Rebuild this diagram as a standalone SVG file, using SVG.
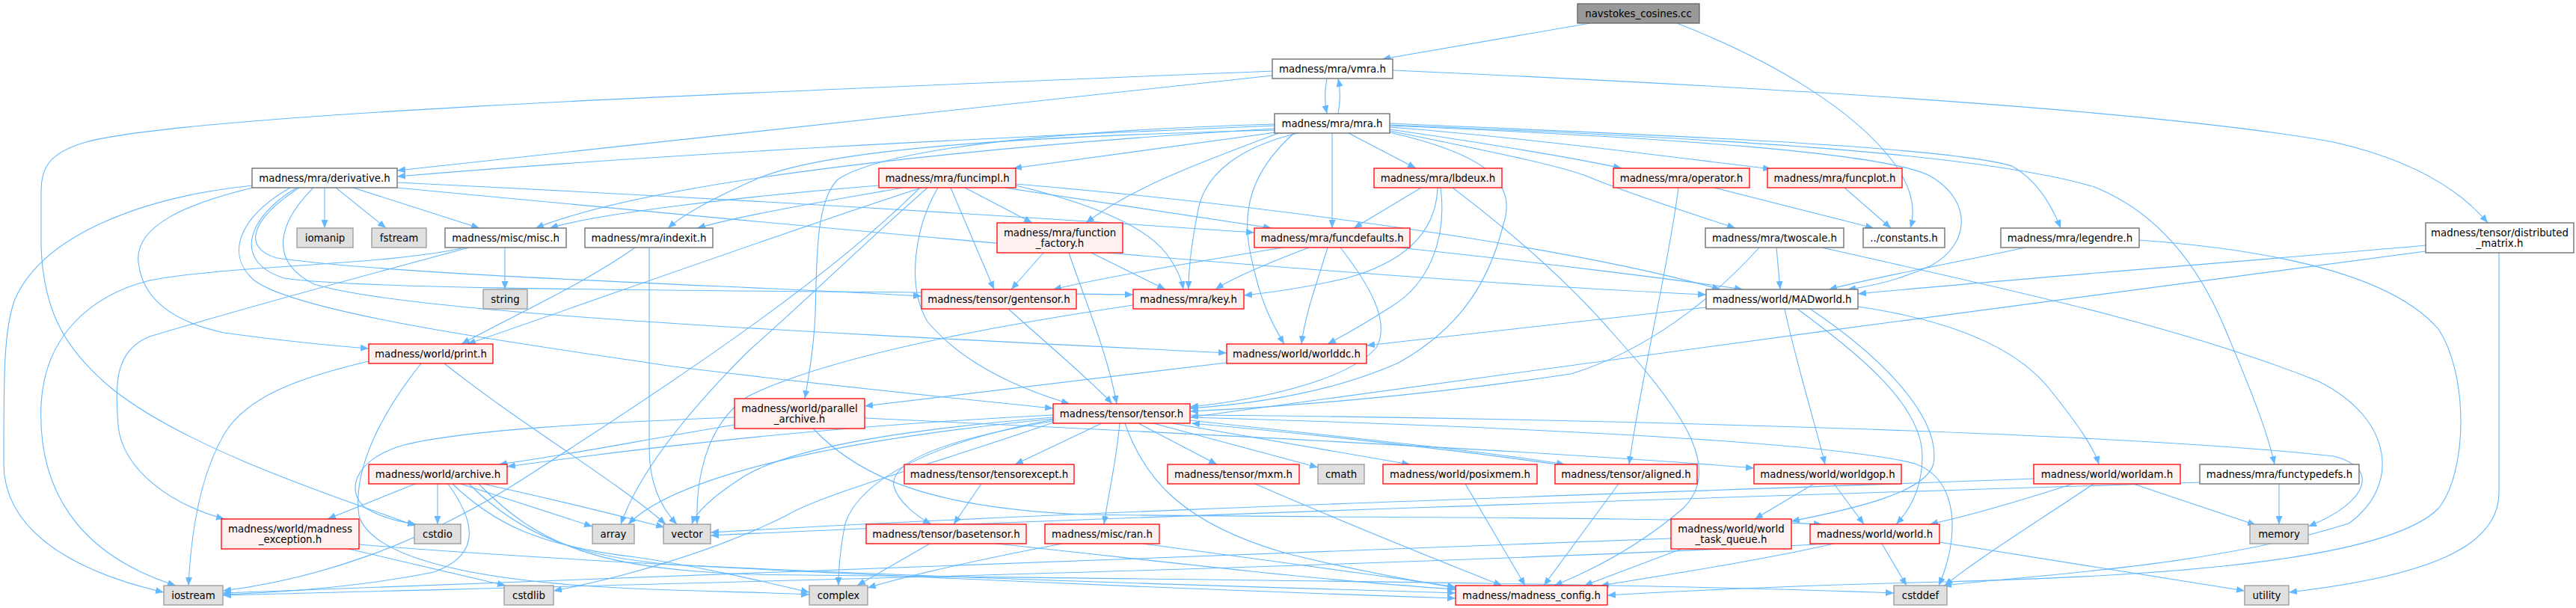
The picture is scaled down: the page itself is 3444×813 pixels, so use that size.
<svg xmlns="http://www.w3.org/2000/svg" width="3444" height="813" viewBox="0 0 3444 813">
<style>
.e path{fill:none;stroke:#63b8ff;stroke-width:1.1;marker-end:url(#a)}
.n rect{stroke-width:1.3}
.r rect{fill:#fff0f0;stroke:#ff0000}
.w rect{fill:#ffffff;stroke:#666666}
.g rect{fill:#e0e0e0;stroke:#999999}
.root rect{fill:#999999;stroke:#666666}
text{font-family:"DejaVu Sans","Liberation Sans",sans-serif;font-size:13.33px;text-anchor:middle;fill:#000}
</style>
<defs>
<marker id="a" markerUnits="userSpaceOnUse" markerWidth="12" markerHeight="9" refX="11" refY="4.5" orient="auto"><path d="M0,0 L11,4.5 L0,9 z" fill="#63b8ff"/></marker>
</defs>
<rect width="3444" height="813" fill="#ffffff"/>
<g id="connectors" class="e">
<path d="M2126,31 L1848,79"/>
<path d="M2242,31 C2380,85 2480,150 2530,215 C2560,255 2560,285 2554,305"/>
<path d="M1774,105 C1771,120 1771,137 1774,152"/>
<path d="M1789,152 C1792,137 1792,120 1789,105"/>
<path d="M1701,101 L531,228"/>
<path d="M1701,95 C1100,120 260,150 115,190 C62,205 55,228 55,255 L55,330 C58,420 90,470 150,520 C250,600 450,665 556,703"/>
<path d="M1862,94 C2400,118 2900,150 3120,190 C3230,215 3290,255 3326,298"/>
<path d="M1704,168 C1300,185 900,205 531,236"/>
<path d="M1706,177 L1355,225"/>
<path d="M1803,178 L1893,225"/>
<path d="M1858,173 C1950,186 2100,210 2168,225"/>
<path d="M1858,170 C2050,185 2250,212 2368,226"/>
<path d="M1704,172 C1400,190 900,232 716,305"/>
<path d="M1704,174 C1350,183 1100,200 1010,240 C960,262 918,283 893,305"/>
<path d="M1709,178 C1640,205 1520,245 1452,298"/>
<path d="M1781,178 L1781,305"/>
<path d="M1858,175 C1980,200 2080,220 2120,235 C2180,260 2260,285 2320,305"/>
<path d="M1858,165 C2200,180 2600,195 2690,222 C2722,240 2742,272 2755,305"/>
<path d="M1858,167 C2300,185 2650,205 2800,250 C2900,290 2950,380 2975,440 C3000,500 3030,570 3041,621"/>
<path d="M1735,178 C1660,196 1612,230 1602,280 C1592,330 1589,360 1589,387"/>
<path d="M1858,168 C2250,185 2520,205 2580,235 C2640,270 2632,328 2582,355 C2545,372 2510,382 2470,387"/>
<path d="M1730,178 C1672,230 1662,280 1670,330 C1683,400 1700,432 1717,460"/>
<path d="M1704,166 C1400,175 1180,200 1120,240 C1090,270 1092,350 1090,420 C1088,470 1080,510 1076,533"/>
<path d="M1858,177 C1980,205 2030,240 2010,300 C1990,380 1950,440 1870,485 C1780,525 1680,540 1591,546"/>
<path d="M338,248 C200,262 60,310 20,400 C5,440 5,500 5,620 C5,700 80,760 219,792"/>
<path d="M434,251 L434,305"/>
<path d="M449,251 L516,305"/>
<path d="M472,251 L641,305"/>
<path d="M531,244 C900,262 1300,285 1677,311"/>
<path d="M531,251 C1100,305 1800,372 2281,394"/>
<path d="M338,251 C250,272 180,302 185,350 C190,400 230,430 300,445 C380,456 440,462 493,466"/>
<path d="M388,251 C320,290 300,340 340,375 C400,420 700,460 900,490 C1100,515 1300,535 1408,546"/>
<path d="M419,251 C370,300 360,350 420,380 C550,420 1100,445 1640,472"/>
<path d="M400,251 C340,290 320,330 370,345 C550,370 1000,382 1232,396"/>
<path d="M397,251 C330,290 310,350 380,372 C500,390 1100,388 1515,394"/>
<path d="M1175,248 C1000,262 800,285 735,305"/>
<path d="M1207,251 C1100,270 1000,286 932,305"/>
<path d="M1232,251 C1050,310 800,400 625,460"/>
<path d="M1240,251 C1150,330 1080,400 1000,470 C920,550 855,630 830,701"/>
<path d="M1254,251 C1225,300 1210,380 1240,430 C1290,490 1370,522 1430,540"/>
<path d="M1271,251 L1329,387"/>
<path d="M1290,251 L1380,298"/>
<path d="M1343,251 L1700,305"/>
<path d="M1358,246 C1700,275 2100,330 2300,387"/>
<path d="M1358,248 C1450,270 1530,300 1560,340 C1575,360 1580,375 1582,387"/>
<path d="M1230,251 C1120,360 950,480 700,640 C560,730 420,775 298,790"/>
<path d="M1900,251 L1810,305"/>
<path d="M1922,251 C1920,310 1880,350 1800,372 C1740,386 1700,391 1663,395"/>
<path d="M1926,251 C1935,320 1910,380 1860,410 C1820,436 1790,452 1775,460"/>
<path d="M1942,251 C2020,310 2100,380 2160,450 C2260,560 2300,630 2250,680 C2180,740 2110,770 2078,783"/>
<path d="M2292,251 L2505,305"/>
<path d="M2244,251 C2230,360 2195,500 2178,621"/>
<path d="M2466,251 L2528,305"/>
<path d="M675,331 L675,387"/>
<path d="M621,331 C520,355 300,355 200,375 C120,395 60,450 55,540 C50,650 100,740 235,783"/>
<path d="M627,331 C500,365 300,420 200,450 C150,470 155,520 158,570 C165,630 230,675 300,694"/>
<path d="M849,331 C780,380 690,420 617,460"/>
<path d="M868,331 L868,600 C868,650 885,680 905,701"/>
<path d="M1395,338 L1352,387"/>
<path d="M1459,338 L1558,387"/>
<path d="M1429,338 C1450,400 1480,470 1493,540"/>
<path d="M1715,331 C1600,350 1480,370 1408,387"/>
<path d="M1750,331 C1700,350 1650,370 1625,387"/>
<path d="M1775,331 C1760,380 1745,420 1740,460"/>
<path d="M1792,331 C1830,380 1860,430 1840,465 C1800,510 1680,535 1591,544"/>
<path d="M1870,331 C2050,350 2250,375 2330,387"/>
<path d="M2352,331 C2290,400 2200,470 2100,500 C1900,530 1700,545 1591,550"/>
<path d="M2375,331 L2380,387"/>
<path d="M2436,331 C2650,380 2900,430 3100,510 C3200,560 3210,650 3140,700 C2950,760 2700,770 2598,783"/>
<path d="M2708,331 C2620,350 2500,372 2445,387"/>
<path d="M2860,321 C3050,335 3200,370 3260,440 C3300,500 3300,630 3260,680 C3180,760 2800,772 2600,778 C2400,783 2250,790 2149,796"/>
<path d="M3243,328 C3000,350 2700,372 2484,393"/>
<path d="M3243,336 C2800,395 2000,500 1591,558"/>
<path d="M3341,338 L3341,660 C3340,730 3250,770 3060,792"/>
<path d="M1348,413 C1400,460 1460,510 1487,540"/>
<path d="M1515,408 C1300,440 1100,480 1000,530 C940,570 930,650 932,701"/>
<path d="M1640,485 L1156,543"/>
<path d="M2281,411 L1827,462"/>
<path d="M2386,413 C2400,480 2425,560 2440,621"/>
<path d="M2403,413 C2480,470 2570,540 2570,610 C2570,650 2555,680 2535,701"/>
<path d="M2420,413 C2520,480 2595,560 2585,620 C2575,660 2470,682 2395,697"/>
<path d="M2484,410 C2620,430 2700,470 2740,520 C2780,570 2800,600 2806,621"/>
<path d="M493,483 C400,505 330,530 300,580 C265,640 255,720 252,783"/>
<path d="M563,486 C520,540 470,620 480,690 C500,750 650,780 870,788 C950,791 1020,792 1082,795"/>
<path d="M594,486 C700,570 820,640 890,701"/>
<path d="M982,568 C850,590 750,610 667,621"/>
<path d="M982,558 C800,565 620,575 540,595 C470,615 462,660 490,680 C510,692 535,698 556,701"/>
<path d="M1156,559 C1600,580 2100,605 2345,626"/>
<path d="M1087,573 C1150,640 1250,680 1450,688 C1800,693 2200,690 2436,701"/>
<path d="M1408,555 C1100,570 850,600 678,624"/>
<path d="M1473,566 L1357,621"/>
<path d="M1522,566 L1627,621"/>
<path d="M1542,566 L1762,625"/>
<path d="M1567,566 L1885,621"/>
<path d="M1591,562 C1800,585 2000,605 2092,621"/>
<path d="M2082,621 C1950,602 1750,580 1593,566"/>
<path d="M1497,566 C1492,620 1482,660 1476,701"/>
<path d="M1408,563 C1250,590 1190,620 1195,650 C1200,670 1225,690 1245,701"/>
<path d="M1504,566 C1530,640 1580,700 1720,740 C1820,765 1900,778 1946,786"/>
<path d="M1678,647 C1800,700 1950,760 2008,783"/>
<path d="M1408,558 C1200,575 1050,600 990,640 C952,665 930,685 925,701"/>
<path d="M1408,560 C1100,590 900,640 840,701"/>
<path d="M1409,561 C1250,590 1150,640 1130,700 C1122,740 1121,765 1121,783"/>
<path d="M1408,565 C1250,620 1100,660 1050,690 C950,740 820,775 740,790"/>
<path d="M1591,555 C2000,558 2800,575 3120,610 C3180,625 3170,670 3086,704"/>
<path d="M1591,558 C2000,570 2450,590 2560,620 C2620,640 2620,720 2592,783"/>
<path d="M2164,647 L2064,783"/>
<path d="M1959,647 L2039,783"/>
<path d="M555,647 L438,694"/>
<path d="M585,647 L585,701"/>
<path d="M599,647 C630,690 650,740 580,765 C480,785 380,792 298,795"/>
<path d="M616,647 L792,704"/>
<path d="M646,647 C750,670 830,690 888,705"/>
<path d="M605,647 C660,700 720,730 850,745 C950,760 1030,780 1082,792"/>
<path d="M627,647 C700,720 780,745 900,755 C1300,775 1700,785 1946,793"/>
<path d="M640,647 C720,730 800,760 1000,768 C1600,775 2200,780 2532,793"/>
<path d="M480,728 C800,755 1500,785 1946,800"/>
<path d="M466,734 L676,783"/>
<path d="M1312,647 L1275,701"/>
<path d="M1243,727 L1146,783"/>
<path d="M1332,727 C1550,750 1750,775 1946,788"/>
<path d="M1420,727 C1300,750 1220,768 1160,786"/>
<path d="M1528,727 C1700,750 1850,770 1946,785"/>
<path d="M2425,647 L2346,694"/>
<path d="M2452,647 L2492,701"/>
<path d="M2248,734 L2118,783"/>
<path d="M2234,720 C1500,745 800,770 298,793"/>
<path d="M2452,727 C2350,750 2220,770 2140,783"/>
<path d="M2447,727 C1800,760 900,780 298,796"/>
<path d="M2516,727 L2549,783"/>
<path d="M2593,725 C2750,750 2900,775 3001,790"/>
<path d="M2771,647 C2700,670 2640,688 2580,701"/>
<path d="M2799,647 C2720,700 2640,750 2600,783"/>
<path d="M2852,647 L3016,702"/>
<path d="M2719,640 C2200,660 1500,680 950,712"/>
<path d="M3047,647 L3047,701"/>
<path d="M2941,645 C2300,665 1500,690 950,716"/>
</g>
<g id="n0" class="n root"><rect x="2109" y="5" width="163" height="26"/><text x="2190.5" y="22.5">navstokes_cosines.cc</text></g>
<g id="n1" class="n w"><rect x="1701" y="79" width="161" height="26"/><text x="1781.5" y="96.5">madness/mra/vmra.h</text></g>
<g id="n2" class="n w"><rect x="1704" y="152" width="154" height="26"/><text x="1781" y="169.5">madness/mra/mra.h</text></g>
<g id="n3" class="n w"><rect x="337" y="225" width="194" height="26"/><text x="434" y="242.5">madness/mra/derivative.h</text></g>
<g id="n4" class="n r"><rect x="1175" y="225" width="183" height="26"/><text x="1266.5" y="242.5">madness/mra/funcimpl.h</text></g>
<g id="n5" class="n r"><rect x="1837" y="225" width="171" height="26"/><text x="1922.5" y="242.5">madness/mra/lbdeux.h</text></g>
<g id="n6" class="n r"><rect x="2157" y="225" width="182" height="26"/><text x="2248" y="242.5">madness/mra/operator.h</text></g>
<g id="n7" class="n r"><rect x="2363" y="225" width="180" height="26"/><text x="2453" y="242.5">madness/mra/funcplot.h</text></g>
<g id="n8" class="n g"><rect x="397" y="305" width="75" height="26"/><text x="434.5" y="322.5">iomanip</text></g>
<g id="n9" class="n g"><rect x="497" y="305" width="73" height="26"/><text x="533.5" y="322.5">fstream</text></g>
<g id="n10" class="n w"><rect x="595" y="305" width="162" height="26"/><text x="676" y="322.5">madness/misc/misc.h</text></g>
<g id="n11" class="n w"><rect x="782" y="305" width="171" height="26"/><text x="867.5" y="322.5">madness/mra/indexit.h</text></g>
<g id="n12" class="n r"><rect x="1333" y="298" width="168" height="40"/><text x="1417" y="315.5">madness/mra/function</text><text x="1417" y="329.5">_factory.h</text></g>
<g id="n13" class="n r"><rect x="1677" y="305" width="208" height="26"/><text x="1781" y="322.5">madness/mra/funcdefaults.h</text></g>
<g id="n14" class="n w"><rect x="2280" y="305" width="185" height="26"/><text x="2372.5" y="322.5">madness/mra/twoscale.h</text></g>
<g id="n15" class="n w"><rect x="2491" y="305" width="109" height="26"/><text x="2545.5" y="322.5">../constants.h</text></g>
<g id="n16" class="n w"><rect x="2675" y="305" width="185" height="26"/><text x="2767.5" y="322.5">madness/mra/legendre.h</text></g>
<g id="n17" class="n w"><rect x="3243" y="298" width="198" height="40"/><text x="3342" y="315.5">madness/tensor/distributed</text><text x="3342" y="329.5">_matrix.h</text></g>
<g id="n18" class="n g"><rect x="646" y="387" width="59" height="26"/><text x="675.5" y="404.5">string</text></g>
<g id="n19" class="n r"><rect x="1232" y="387" width="207" height="26"/><text x="1335.5" y="404.5">madness/tensor/gentensor.h</text></g>
<g id="n20" class="n r"><rect x="1515" y="387" width="148" height="26"/><text x="1589" y="404.5">madness/mra/key.h</text></g>
<g id="n21" class="n w"><rect x="2281" y="387" width="203" height="26"/><text x="2382.5" y="404.5">madness/world/MADworld.h</text></g>
<g id="n22" class="n r"><rect x="493" y="460" width="166" height="26"/><text x="576" y="477.5">madness/world/print.h</text></g>
<g id="n23" class="n r"><rect x="1640" y="460" width="187" height="26"/><text x="1733.5" y="477.5">madness/world/worlddc.h</text></g>
<g id="n24" class="n r"><rect x="982" y="533" width="174" height="40"/><text x="1069" y="550.5">madness/world/parallel</text><text x="1069" y="564.5">_archive.h</text></g>
<g id="n25" class="n r"><rect x="1408" y="540" width="183" height="26"/><text x="1499.5" y="557.5">madness/tensor/tensor.h</text></g>
<g id="n26" class="n r"><rect x="493" y="621" width="185" height="26"/><text x="585.5" y="638.5">madness/world/archive.h</text></g>
<g id="n27" class="n r"><rect x="1209" y="621" width="227" height="26"/><text x="1322.5" y="638.5">madness/tensor/tensorexcept.h</text></g>
<g id="n28" class="n r"><rect x="1561" y="621" width="176" height="26"/><text x="1649" y="638.5">madness/tensor/mxm.h</text></g>
<g id="n29" class="n g"><rect x="1762" y="621" width="62" height="26"/><text x="1793" y="638.5">cmath</text></g>
<g id="n30" class="n r"><rect x="1849" y="621" width="206" height="26"/><text x="1952" y="638.5">madness/world/posixmem.h</text></g>
<g id="n31" class="n r"><rect x="2079" y="621" width="190" height="26"/><text x="2174" y="638.5">madness/tensor/aligned.h</text></g>
<g id="n32" class="n r"><rect x="2345" y="621" width="197" height="26"/><text x="2443.5" y="638.5">madness/world/worldgop.h</text></g>
<g id="n33" class="n r"><rect x="2719" y="621" width="196" height="26"/><text x="2817" y="638.5">madness/world/worldam.h</text></g>
<g id="n34" class="n w"><rect x="2941" y="621" width="213" height="26"/><text x="3047.5" y="638.5">madness/mra/functypedefs.h</text></g>
<g id="n35" class="n r"><rect x="296" y="694" width="184" height="40"/><text x="388" y="711.5">madness/world/madness</text><text x="388" y="725.5">_exception.h</text></g>
<g id="n36" class="n g"><rect x="554" y="701" width="62" height="26"/><text x="585" y="718.5">cstdio</text></g>
<g id="n37" class="n g"><rect x="792" y="701" width="56" height="26"/><text x="820" y="718.5">array</text></g>
<g id="n38" class="n g"><rect x="887" y="701" width="63" height="26"/><text x="918.5" y="718.5">vector</text></g>
<g id="n39" class="n r"><rect x="1158" y="701" width="214" height="26"/><text x="1265" y="718.5">madness/tensor/basetensor.h</text></g>
<g id="n40" class="n r"><rect x="1397" y="701" width="153" height="26"/><text x="1473.5" y="718.5">madness/misc/ran.h</text></g>
<g id="n41" class="n r"><rect x="2234" y="694" width="161" height="40"/><text x="2314.5" y="711.5">madness/world/world</text><text x="2314.5" y="725.5">_task_queue.h</text></g>
<g id="n42" class="n r"><rect x="2420" y="701" width="173" height="26"/><text x="2506.5" y="718.5">madness/world/world.h</text></g>
<g id="n43" class="n g"><rect x="3008" y="701" width="78" height="26"/><text x="3047" y="718.5">memory</text></g>
<g id="n44" class="n g"><rect x="219" y="783" width="79" height="26"/><text x="258.5" y="800.5">iostream</text></g>
<g id="n45" class="n g"><rect x="674" y="783" width="66" height="26"/><text x="707" y="800.5">cstdlib</text></g>
<g id="n46" class="n g"><rect x="1082" y="783" width="78" height="26"/><text x="1121" y="800.5">complex</text></g>
<g id="n47" class="n r"><rect x="1946" y="783" width="203" height="26"/><text x="2047.5" y="800.5">madness/madness_config.h</text></g>
<g id="n48" class="n g"><rect x="2532" y="783" width="71" height="26"/><text x="2567.5" y="800.5">cstddef</text></g>
<g id="n49" class="n g"><rect x="3001" y="783" width="59" height="26"/><text x="3030.5" y="800.5">utility</text></g>
</svg>
